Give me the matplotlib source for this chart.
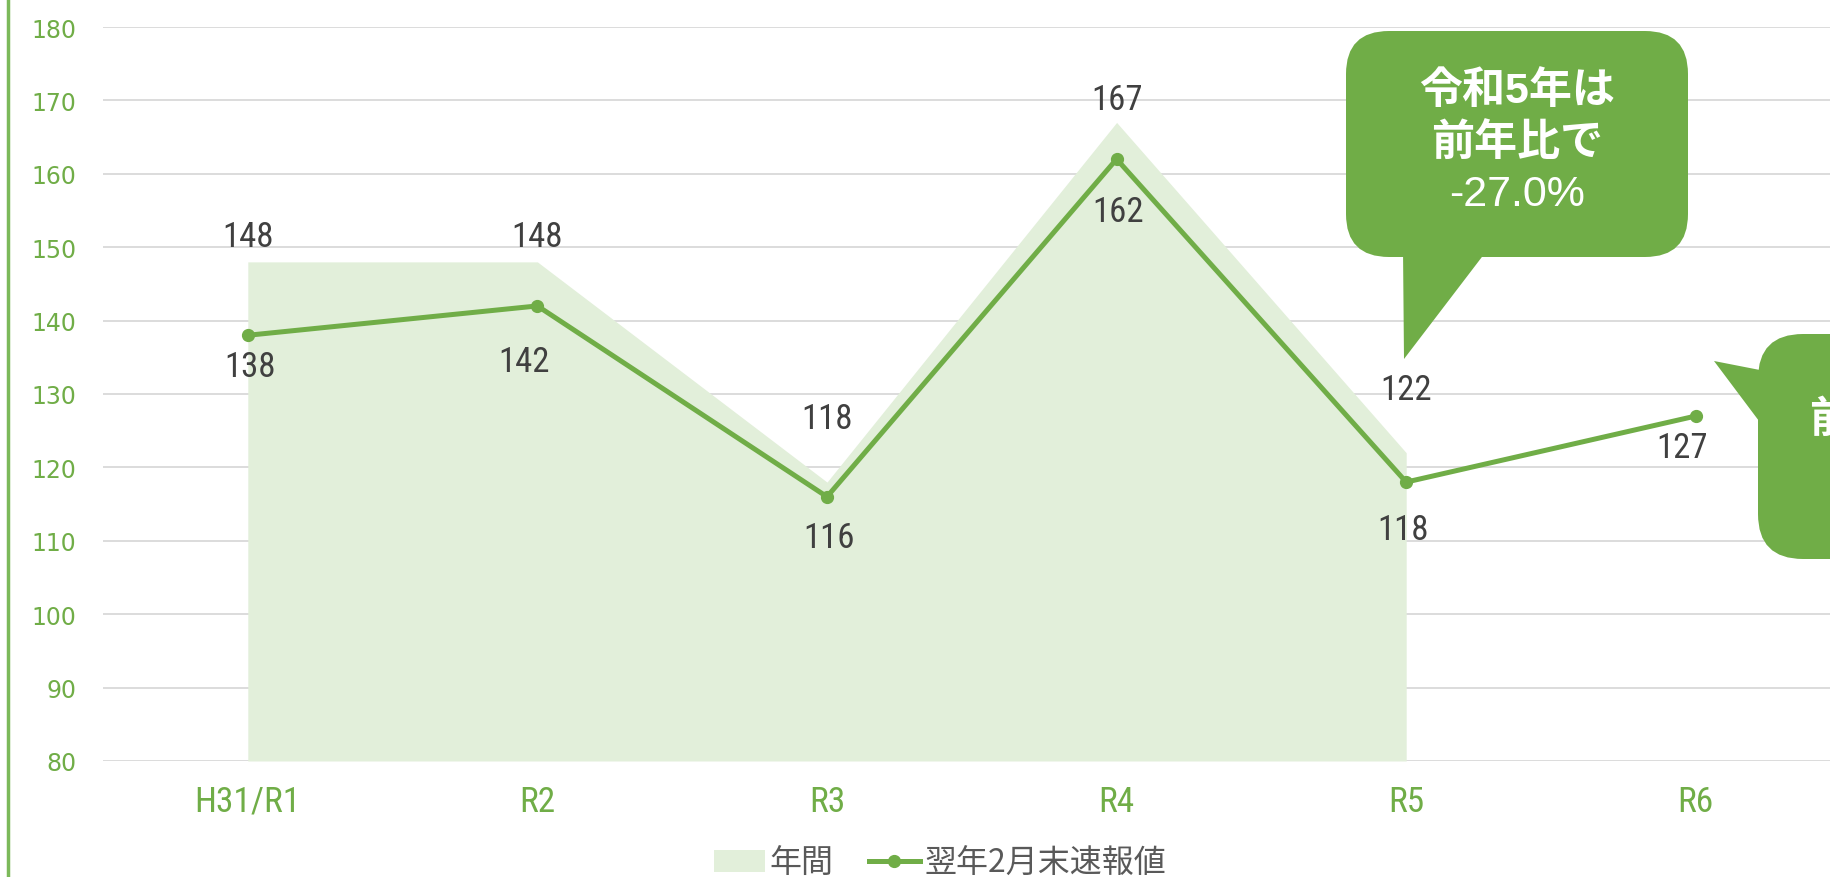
import matplotlib
matplotlib.use("Agg")
import matplotlib.pyplot as plt
from matplotlib import font_manager
from matplotlib.patches import FancyBboxPatch, Polygon, Patch
from matplotlib.lines import Line2D
from matplotlib.transforms import IdentityTransform

# data
years = ["H31/R1", "R2", "R3", "R4", "R5", "R6"]
annual = [148, 148, 118, 167, 122]          # 年間
prompt = [138, 142, 116, 162, 118, 127]     # 翌年2月末速報値

# label nudges in pixels (dx, dy), the source places them by hand
annual_offsets = [(0, 25), (0, 25), (0, 64), (0, 23), (0, 63)]
prompt_offsets = [(2, -31), (-13, -56), (2, -41), (2, -52), (-3, -47), (-14, -31)]

W, H = 1831, 878
GREEN = "#70AD47"
LIGHT = "#E2EFDA"
GRID = "#D9D9D9"
TEXT = "#404040"

names = {f.name for f in font_manager.fontManager.ttflist}
narrow = "Roboto"
for cand in ["Roboto Condensed", "Liberation Sans Narrow"]:
    if cand in names:
        narrow = cand
        break

fig = plt.figure(figsize=(W / 100, H / 100), dpi=100)
ax = fig.add_axes([103 / W, (H - 762) / H, 6 * 289.6 / W, 734 / H])

x = list(range(len(years)))
ax.fill_between(x[:len(annual)], annual, 80, color=LIGHT, lw=0, zorder=1)
ax.plot(x, prompt, color=GREEN, lw=3.6, marker="o", ms=8.5, zorder=3)

for i, v in enumerate(annual):
    dx, dy = annual_offsets[i]
    ax.annotate(str(v), (i, v), xytext=(dx, dy), textcoords="offset pixels",
                ha="center", va="center", fontsize=25, color=TEXT, family=narrow)
for i, v in enumerate(prompt):
    dx, dy = prompt_offsets[i]
    ax.annotate(str(v), (i, v), xytext=(dx, dy), textcoords="offset pixels",
                ha="center", va="center", fontsize=25, color=TEXT, family=narrow)

ax.set_xlim(-0.5, 5.5)
ax.set_ylim(80, 180)
ax.set_yticks(range(80, 181, 10))
ax.set_xticks(x)
ax.set_xticklabels(years, fontsize=25.5, color=GREEN, family=narrow)
ax.tick_params(axis="y", length=0, pad=19, labelsize=17, labelcolor=GREEN)
ax.tick_params(axis="x", length=0, pad=17)
ax.grid(axis="y", color=GRID, lw=1.3, zorder=0)
ax.set_axisbelow(True)
for s in ax.spines.values():
    s.set_visible(False)

# green border line on the left
fig.add_artist(Line2D([7.5 / W, 7.5 / W], [0, 1], color="#7CB95A", lw=2.5))

# callouts, drawn in pixel coordinates (origin top-left)
def px(xp, yp):
    return (xp, H - yp)

def callout(x0, y0, x1, y1, tail, r=43):
    box = FancyBboxPatch(px(x0, y1), x1 - x0, y1 - y0,
                         boxstyle=f"round,pad=0,rounding_size={r}",
                         transform=IdentityTransform(), fc=GREEN, ec="none", zorder=5)
    fig.add_artist(box)
    fig.add_artist(Polygon([px(a, b) for a, b in tail], closed=True,
                           transform=IdentityTransform(), fc=GREEN, ec="none", zorder=5))

callout(1346, 32, 1688, 258, [(1403, 250), (1488, 250), (1404, 360)])
callout(1758, 335, 2120, 560, [(1765, 372), (1765, 430), (1714, 362)], r=45)

cjk = ["Liberation Sans", "Noto Sans CJK JP"]
def bubble_text(xp, yp, s, bold=True):
    fig.text(*px(xp, yp), s, transform=IdentityTransform(), ha="center", va="center",
             fontsize=31, fontweight="bold" if bold else "normal", color="white",
             family=cjk, zorder=6)

bubble_text(1517, 92, "令和5年は")
bubble_text(1517, 143, "前年比で")
bubble_text(1517, 195, "-27.0%", bold=False)
bubble_text(1895, 420, "前年比で")
bubble_text(1895, 471, "+7.6%", bold=False)

handles = [Patch(fc=LIGHT, ec="none"),
           Line2D([], [], color=GREEN, lw=3.6, marker="o", ms=8.5)]
fig.legend(handles, ["年間", "翌年2月末速報値"], loc="center", bbox_to_anchor=(940 / W, 1 - 864 / H),
           ncol=2, frameon=False, prop={"family": ["Noto Sans CJK JP"], "size": 23},
           labelcolor="#595959", handlelength=1.6, handleheight=0.7, handletextpad=0.15,
           columnspacing=1.1)

fig.savefig("out.png", dpi=100)
